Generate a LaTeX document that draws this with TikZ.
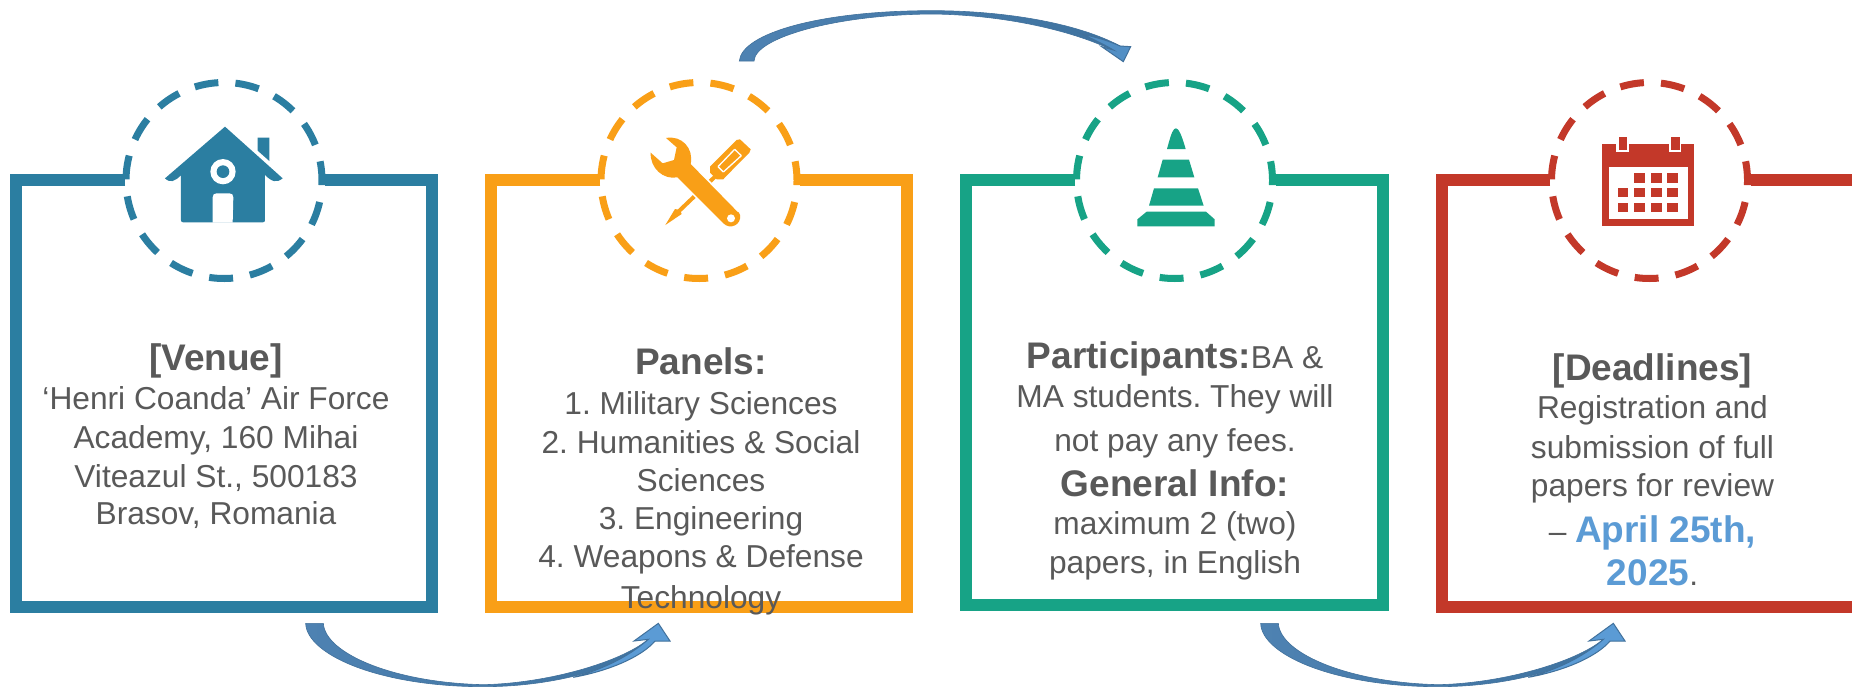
\documentclass[tikz,border=0pt]{standalone}
\usepackage{fontspec}
\setmainfont{Liberation Sans}
\definecolor{cblue}{HTML}{2B7EA1}
\definecolor{corange}{HTML}{F99F17}
\definecolor{cgreen}{HTML}{17A386}
\definecolor{cred}{HTML}{C33829}
\definecolor{txtgrey}{HTML}{595959}
\definecolor{datecol}{HTML}{5B9BD5}
\definecolor{arrowlight}{HTML}{5B9BD5}
\definecolor{arrowedge}{HTML}{41719C}
\definecolor{arrowa}{HTML}{4E82B2}
\definecolor{arrowb}{HTML}{3E729F}
\newcommand{\bodyfont}{\frenchspacing\fontsize{31.7}{38}\selectfont}
\newcommand{\boldfont}{\fontsize{37}{44}\selectfont\bfseries}
\tikzset{
  framedraw/.style={line width=12pt},
  ringline/.style={line width=7pt},
  textline/.style={anchor=base,text=txtgrey,font=\bodyfont,inner sep=0pt,outer sep=0pt},
}
\newcommand{\lineat}[4]{\node[textline] (#1) at (#2,#3) {#4};}
\newcommand{\ringat}[3]{%
  \foreach \a [evaluate=\a as \s using 93.3-24*\a, evaluate=\a as \e using 107.3-24*\a] in {0,...,14}{%
    \draw[ringline,draw=#3] plot[domain=\s:\e,samples=12] ({#1+98*cos(\x)},{#2-98*sin(\x)});
  }%
}
\newcommand{\frameat}[6]{\draw[framedraw,draw=#1] (#5,180) -- (#2,180) -- (#2,#4) -- (#3,#4) -- (#3,180) -- (#6,180);}
\newcommand{\lowerarrow}[3]{%
  \begin{scope}[shift={(#1,590)},x=0.33333pt,y=-0.33333pt]
    \coordinate (#2) at (103,100);
    \coordinate (#3) at (1135,100);
    \path[draw=arrowedge,line width=0.6pt,left color=arrowa,right color=arrowb]
      (77,100) .. controls (80,195) and (300,290) .. (610,290)
      .. controls (800,290) and (1000,245) .. (1125,153)
      -- (1105,148) .. controls (1020,218) and (800,280) .. (610,284)
      .. controls (340,278) and (135,190) .. (130,100) -- cycle;
    \path[fill=arrowlight,draw=arrowedge,line width=1pt]
      (1170,153) -- (1135,100) -- (1062,153) -- (1105,148)
      .. controls (1040,205) and (960,240) .. (880,262)
      .. controls (1000,240) and (1090,195) .. (1125,153) -- cycle;
  \end{scope}%
}
\begin{document}
\begin{tikzpicture}[x=1pt,y=-1pt]
\useasboundingbox (0,0) rectangle (1852,686);
\fill[white] (0,0) rectangle (1852,686);
% frames
\frameat{cblue}{16}{432}{607}{125}{325}
\frameat{corange}{491}{907}{606.5}{600}{800}
\frameat{cgreen}{966}{1383}{604.5}{1075}{1276}
\frameat{cred}{1442}{1858}{607}{1550}{1751}
% rings
\ringat{224}{180.5}{cblue}
\ringat{699}{180.5}{corange}
\ringat{1174.5}{180.5}{cgreen}
\ringat{1649.5}{180.5}{cred}
% house
\begin{scope}[shift={(0,60)},x=0.33333pt,y=-0.33333pt]
  \fill[cblue] (773,233) -- (808,233) -- (808,303) -- (773,272) -- cycle;
  \fill[cblue] (675,200) -- (848,355) .. controls (830,370) and (815,365) .. (795,345)
     -- (795,480) .. controls (795,485) and (793,487) .. (788,487) -- (550,487)
     .. controls (545,487) and (543,485) .. (543,480) -- (543,345)
     .. controls (525,365) and (510,370) .. (495,355) -- cycle;
  \fill[white] (669,335) circle[radius=38];
  \fill[cblue] (669,335) circle[radius=19];
  \fill[white] (638,488) -- (638,412) .. controls (638,404) and (642,400) .. (650,400)
     -- (688,400) .. controls (696,400) and (700,404) .. (700,412) -- (698,488) -- cycle;
\end{scope}
% tools
\begin{scope}[shift={(560,60)},x=0.33333pt,y=-0.33333pt]
  % screwdriver
  \fill[corange] (450,320) -- (455,315) -- (530,240) -- (540,238) -- (572,268) -- (568,278)
     -- (495,352) -- (490,358) -- (470,358) -- (450,338) -- cycle;
  \draw[white,line width=1.3pt] (474,320) -- (524,268);
  \draw[white,line width=1.3pt] (490,336) -- (544,287);
  \draw[white,line width=1.3pt] (474,320) -- (490,336);
  \draw[white,line width=1.3pt] (524,268) -- (544,287);
  \draw[corange,line width=4pt] (465,350) -- (352,458);
  \fill[corange] (345,447) -- (360,450) -- (365,462) -- (316,495) -- cycle;
  % wrench
  \path[draw=white,line width=3pt] (392,312) -- (490,410) (352,352) -- (440,440);
  \fill[corange] (318,234) -- (350,262) -- (342,300) -- (308,310) -- (272,278)
     .. controls (270,325) and (310,360) .. (352,352)
     -- (490,490) .. controls (510,510) and (545,495) .. (540,465) .. controls (538,458) and (535,455) .. (532,455)
     -- (392,312) .. controls (402,265) and (365,225) .. (318,234) -- cycle;
  \fill[white] (513,475) circle[radius=12];
\end{scope}
% cone
\begin{scope}[shift={(1040,60)},x=0.33333pt,y=-0.33333pt]
  \fill[cgreen] (381,267) .. controls (395,215) and (400,205) .. (408,205) .. controls (416,205) and (425,225) .. (437,267) -- cycle;
  \fill[cgreen] (368,299) -- (447,299) -- (463,352) -- (353,352) -- cycle;
  \fill[cgreen] (342,385) -- (474,385) -- (491,437) -- (327,437) -- cycle;
  \fill[cgreen] (320,455) -- (498,455) -- (524,478) -- (524,499) -- (292,499) -- (292,478) -- cycle;
\end{scope}
% calendar
\begin{scope}[shift={(1480,60)},x=0.33333pt,y=-0.33333pt]
  \fill[cred] (365,251) rectangle (642,499);
  \fill[white] (386,322) rectangle (623,478);
  \fill[white] (409,245) rectangle (447,277);
  \fill[white] (567,245) rectangle (603,277);
  \fill[cred] (417,231) rectangle (441,270);
  \fill[cred] (574,231) rectangle (600,270);
  \foreach \xa/\xb in {462/495,513/546,561/594}{\fill[cred] (\xa,339) rectangle (\xb,369);}
  \foreach \xa/\xb in {414/444,462/495,513/546,561/594}{
    \fill[cred] (\xa,384) rectangle (\xb,411);
    \fill[cred] (\xa,429) rectangle (\xb,456);
  }
\end{scope}
% arrows
\lowerarrow{280}{tailA}{tipA}
\lowerarrow{1235}{tailC}{tipC}
\begin{scope}[shift={(720,0)},x=0.33333pt,y=-0.33333pt]
  \coordinate (tailB) at (80,183);
  \coordinate (tipB) at (1210,185);
  \path[draw=arrowedge,line width=0.6pt,left color=arrowa,right color=arrowb]
    (58,183) .. controls (65,100) and (300,32) .. (635,32)
    .. controls (850,32) and (1070,68) .. (1200,138)
    -- (1180,152) .. controls (1060,92) and (850,44) .. (635,42)
    .. controls (350,44) and (105,112) .. (102,183) -- cycle;
  \path[fill=arrowlight!70!arrowb,draw=arrowedge,line width=1pt]
    (1232,140) -- (1210,185) -- (1145,140) -- (1180,150)
    .. controls (1150,132) and (1120,118) .. (1085,102)
    .. controls (1130,112) and (1165,122) .. (1200,138) -- cycle;
\end{scope}
% venue text
\lineat{venueT}{216}{370}{\boldfont [Venue]}
\lineat{venueA}{216}{409}{‘Henri Coanda’ Air Force}
\lineat{venueB}{216}{448}{Academy, 160 Mihai}
\lineat{venueC}{216}{487}{Viteazul St., 500183}
\lineat{venueD}{216}{524}{Brasov, Romania}
% panels text
\lineat{panelT}{701}{374}{\boldfont Panels:}
\lineat{panelA}{701}{414}{1. Military Sciences}
\lineat{panelB}{701}{453}{2. Humanities \& Social}
\lineat{panelC}{701}{491}{Sciences}
\lineat{panelD}{701}{529}{3. Engineering}
\lineat{panelE}{701}{567}{4. Weapons \& Defense}
\lineat{panelF}{701}{608}{Technology}
% participants text
\lineat{partA}{1175}{368}{{\boldfont Participants:}BA \&}
\lineat{partB}{1175}{407}{MA students. They will}
\lineat{partC}{1175}{451}{not pay any fees.}
\lineat{partD}{1175}{496}{\boldfont General Info:}
\lineat{partE}{1175}{534}{maximum 2 (two)}
\lineat{partF}{1175}{573}{papers, in English}
% deadlines text
\lineat{deadT}{1652.5}{380}{\boldfont [Deadlines]}
\lineat{deadA}{1652.5}{418}{Registration and}
\lineat{deadB}{1652.5}{458}{submission of full}
\lineat{deadC}{1652.5}{496}{papers for review}
\lineat{deadD}{1652.5}{542}{– {\boldfont\color{datecol}April 25th,}}
\lineat{deadE}{1652.5}{585}{{\boldfont\color{datecol}2025}.}
\end{tikzpicture}
\end{document}
